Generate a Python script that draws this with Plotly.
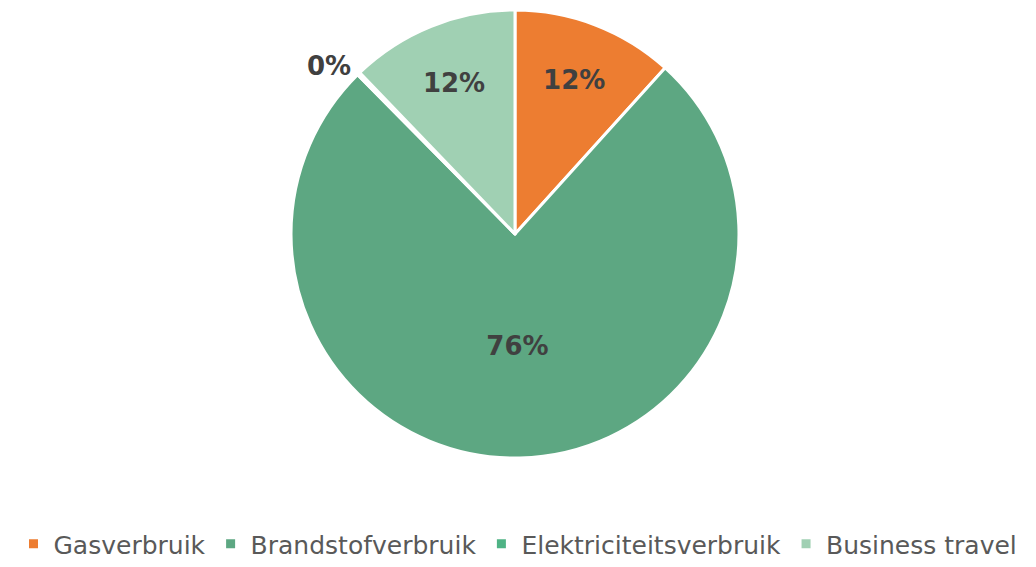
import plotly.graph_objects as go

labels = ["Gasverbruik", "Brandstofverbruik", "Elektriciteitsverbruik", "Business travel"]
values = [11.7, 75.9, 0.2, 12.2]
colors = ["#ED7D31", "#5DA782", "#4FB385", "#A0D0B3"]
text_positions = ["inside", "inside", "outside", "inside"]

fig = go.Figure(go.Pie(
    labels=labels,
    values=values,
    sort=False,
    direction="clockwise",
    rotation=0,
    marker=dict(colors=colors, line=dict(color="white", width=3)),
    texttemplate="%{percent:.0%}",
    textposition=text_positions,
    insidetextorientation="horizontal",
    textfont=dict(family="DejaVu Sans", size=26, color="#404040", weight="bold"),
    domain=dict(x=[0.2809, 0.7133], y=[0.1922, 0.9824]),
    hoverinfo="label+percent",
))

fig.update_layout(
    width=1036, height=567,
    margin=dict(l=0, r=0, t=0, b=0, autoexpand=False),
    paper_bgcolor="white",
    plot_bgcolor="white",
    showlegend=True,
    legend=dict(
        orientation="h",
        x=0.5, xanchor="center",
        y=0.0, yanchor="bottom",
        font=dict(family="DejaVu Sans", size=25, color="#595959"),
        itemwidth=30,
        traceorder="normal",
    ),
)

fig.write_html("out.html")
